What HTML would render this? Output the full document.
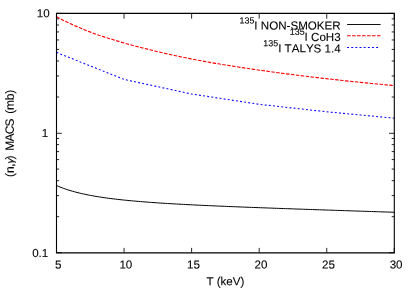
<!DOCTYPE html>
<html><head><meta charset="utf-8"><title>plot</title>
<style>
html,body{margin:0;padding:0;background:#fff;}
body{width:415px;height:290px;overflow:hidden;}
svg{display:block;will-change:transform;}
text{font-kerning:none;font-family:"Liberation Sans",sans-serif;font-size:11.6px;fill:#000;stroke:#000;stroke-width:0.1px;}
</style></head><body>
<svg width="415" height="290" viewBox="0 0 415 290">
<rect width="415" height="290" fill="#fff"/>
<path d="M56.50,252.70L61.80,252.70 M394.30,252.70L389.00,252.70 M56.50,216.68L59.10,216.68 M394.30,216.68L391.70,216.68 M56.50,195.61L59.10,195.61 M394.30,195.61L391.70,195.61 M56.50,180.66L59.10,180.66 M394.30,180.66L391.70,180.66 M56.50,169.07L59.10,169.07 M394.30,169.07L391.70,169.07 M56.50,159.59L59.10,159.59 M394.30,159.59L391.70,159.59 M56.50,151.58L59.10,151.58 M394.30,151.58L391.70,151.58 M56.50,144.65L59.10,144.65 M394.30,144.65L391.70,144.65 M56.50,138.52L59.10,138.52 M394.30,138.52L391.70,138.52 M56.50,133.30L61.80,133.30 M394.30,133.30L389.00,133.30 M56.50,97.03L59.10,97.03 M394.30,97.03L391.70,97.03 M56.50,75.96L59.10,75.96 M394.30,75.96L391.70,75.96 M56.50,61.01L59.10,61.01 M394.30,61.01L391.70,61.01 M56.50,49.42L59.10,49.42 M394.30,49.42L391.70,49.42 M56.50,39.94L59.10,39.94 M394.30,39.94L391.70,39.94 M56.50,31.93L59.10,31.93 M394.30,31.93L391.70,31.93 M56.50,25.00L59.10,25.00 M394.30,25.00L391.70,25.00 M56.50,18.87L59.10,18.87 M394.30,18.87L391.70,18.87 M56.50,13.40L61.80,13.40 M394.30,13.40L389.00,13.40 M56.50,252.70L56.50,247.90 M56.50,13.40L56.50,18.70 M124.06,252.70L124.06,247.90 M124.06,13.40L124.06,18.70 M191.62,252.70L191.62,247.90 M191.62,13.40L191.62,18.70 M259.18,252.70L259.18,247.90 M259.18,13.40L259.18,18.70 M326.74,252.70L326.74,247.90 M326.74,13.40L326.74,18.70 M394.30,252.70L394.30,247.90 M394.30,13.40L394.30,18.70" stroke="#000" stroke-width="0.85" fill="none"/>
<path d="M56.50,185.54 L58.77,186.52 L61.03,187.42 L63.30,188.28 L65.57,189.07 L67.84,189.83 L70.10,190.53 L72.37,191.20 L74.64,191.83 L76.90,192.42 L79.17,192.99 L81.44,193.52 L83.71,194.03 L85.97,194.51 L88.24,194.97 L90.51,195.40 L92.77,195.82 L95.04,196.22 L97.31,196.59 L99.58,196.96 L101.84,197.31 L104.11,197.64 L106.38,197.96 L108.64,198.26 L110.91,198.56 L113.18,198.84 L115.44,199.12 L117.71,199.38 L119.98,199.63 L122.25,199.88 L124.51,200.11 L126.78,200.34 L129.05,200.56 L131.31,200.78 L133.58,200.98 L135.85,201.19 L138.12,201.38 L140.38,201.57 L142.65,201.75 L144.92,201.93 L147.18,202.11 L149.45,202.28 L151.72,202.44 L153.99,202.60 L156.25,202.76 L158.52,202.91 L160.79,203.06 L163.05,203.21 L165.32,203.35 L167.59,203.49 L169.86,203.63 L172.12,203.76 L174.39,203.89 L176.66,204.02 L178.92,204.15 L181.19,204.27 L183.46,204.40 L185.73,204.52 L187.99,204.63 L190.26,204.75 L192.53,204.86 L194.79,204.98 L197.06,205.09 L199.33,205.20 L201.60,205.30 L203.86,205.41 L206.13,205.51 L208.40,205.62 L210.66,205.72 L212.93,205.82 L215.20,205.92 L217.47,206.02 L219.73,206.11 L222.00,206.21 L224.27,206.31 L226.53,206.40 L228.80,206.49 L231.07,206.59 L233.33,206.68 L235.60,206.77 L237.87,206.86 L240.14,206.95 L242.40,207.04 L244.67,207.13 L246.94,207.21 L249.20,207.30 L251.47,207.39 L253.74,207.47 L256.01,207.56 L258.27,207.64 L260.54,207.73 L262.81,207.81 L265.07,207.89 L267.34,207.98 L269.61,208.06 L271.88,208.14 L274.14,208.22 L276.41,208.30 L278.68,208.38 L280.94,208.46 L283.21,208.54 L285.48,208.62 L287.75,208.70 L290.01,208.78 L292.28,208.86 L294.55,208.94 L296.81,209.02 L299.08,209.10 L301.35,209.18 L303.62,209.25 L305.88,209.33 L308.15,209.41 L310.42,209.49 L312.68,209.56 L314.95,209.64 L317.22,209.72 L319.49,209.79 L321.75,209.87 L324.02,209.95 L326.29,210.02 L328.55,210.10 L330.82,210.17 L333.09,210.25 L335.36,210.33 L337.62,210.40 L339.89,210.48 L342.16,210.55 L344.42,210.63 L346.69,210.70 L348.96,210.78 L351.22,210.86 L353.49,210.93 L355.76,211.01 L358.03,211.08 L360.29,211.16 L362.56,211.23 L364.83,211.31 L367.09,211.38 L369.36,211.46 L371.63,211.53 L373.90,211.61 L376.16,211.68 L378.43,211.76 L380.70,211.83 L382.96,211.91 L385.23,211.98 L387.50,212.05 L389.77,212.13 L392.03,212.20 L394.30,212.28" stroke="#000" stroke-width="1" fill="none"/>
<path d="M56.50,16.80 L59.34,18.28 L62.18,19.72 L65.02,21.12 L67.85,22.49 L70.69,23.82 L73.53,25.12 L76.37,26.37 L79.21,27.59 L82.05,28.77 L84.89,29.92 L87.73,31.04 L90.56,32.14 L93.40,33.25 L96.24,34.32 L99.08,35.33 L101.92,36.25 L104.76,37.12 L107.60,37.97 L110.43,38.83 L113.27,39.72 L116.11,40.62 L118.95,41.51 L121.79,42.36 L124.63,43.16 L127.47,43.93 L130.31,44.70 L133.14,45.46 L135.98,46.21 L138.82,46.95 L141.66,47.68 L144.50,48.40 L147.34,49.12 L150.18,49.83 L153.01,50.52 L155.85,51.21 L158.69,51.89 L161.53,52.56 L164.37,53.21 L167.21,53.86 L170.05,54.50 L172.88,55.13 L175.72,55.75 L178.56,56.35 L181.40,56.95 L184.24,57.53 L187.08,58.11 L189.92,58.67 L192.76,59.22 L195.59,59.77 L198.43,60.30 L201.27,60.82 L204.11,61.34 L206.95,61.85 L209.79,62.35 L212.63,62.84 L215.46,63.33 L218.30,63.81 L221.14,64.28 L223.98,64.75 L226.82,65.21 L229.66,65.66 L232.50,66.11 L235.34,66.55 L238.17,66.99 L241.01,67.42 L243.85,67.85 L246.69,68.27 L249.53,68.69 L252.37,69.11 L255.21,69.52 L258.04,69.93 L260.88,70.34 L263.72,70.74 L266.56,71.14 L269.40,71.54 L272.24,71.93 L275.08,72.31 L277.92,72.69 L280.75,73.07 L283.59,73.45 L286.43,73.82 L289.27,74.18 L292.11,74.55 L294.95,74.91 L297.79,75.26 L300.62,75.62 L303.46,75.96 L306.30,76.31 L309.14,76.65 L311.98,76.99 L314.82,77.33 L317.66,77.66 L320.49,77.99 L323.33,78.32 L326.17,78.64 L329.01,78.96 L331.85,79.28 L334.69,79.60 L337.53,79.91 L340.37,80.22 L343.20,80.53 L346.04,80.84 L348.88,81.14 L351.72,81.44 L354.56,81.74 L357.40,82.03 L360.24,82.33 L363.07,82.61 L365.91,82.90 L368.75,83.19 L371.59,83.47 L374.43,83.74 L377.27,84.02 L380.11,84.29 L382.95,84.56 L385.78,84.82 L388.62,85.09 L391.46,85.34 L394.30,85.60" stroke="#f00" stroke-width="1.12" stroke-dasharray="3.5 1.45" fill="none"/>
<path d="M56.50,52.40 L124.05,79.45 L191.60,94.00 L259.20,104.30 L326.70,111.80 L394.30,118.20" stroke="#00f" stroke-width="1.05" stroke-dasharray="1.9 2.25" fill="none"/>
<path d="M56.5,252.95V13.4H394.3V252.95" fill="none" stroke="#000" stroke-width="1.1" stroke-linejoin="miter"/>
<path d="M55.95,252.95H394.85" fill="none" stroke="#000" stroke-width="1.25"/>
<text x="340.7" y="29.6" text-anchor="end" transform="rotate(0.03 340.7 29.6)"><tspan font-size="8.9" dy="-6.1">135</tspan><tspan dy="6.1">I NON-SMOKER</tspan></text><path d="M347.1,24.5H380.6" stroke="#111" stroke-width="1.0" fill="none"/>
<text x="340.7" y="40.9" text-anchor="end" transform="rotate(0.03 340.7 40.9)"><tspan font-size="8.9" dy="-6.1">135</tspan><tspan dy="6.1">I CoH3</tspan></text><path d="M347.1,35.75H380.7" stroke="#f00" stroke-width="1.2" fill="none" stroke-dasharray="3.55 1.43"/>
<text x="340.7" y="52.4" text-anchor="end" transform="rotate(0.03 340.7 52.4)"><tspan font-size="8.9" dy="-6.1">135</tspan><tspan dy="6.1">I TALYS 1.4</tspan></text><path d="M347.1,47.55H380.2" stroke="#00f" stroke-width="1.05" fill="none" stroke-dasharray="1.9 2.25"/>
<text x="58.30" y="268.60" text-anchor="middle" transform="rotate(0.03 58.30 268.60)">5</text><text x="125.86" y="268.60" text-anchor="middle" transform="rotate(0.03 125.86 268.60)">10</text><text x="193.42" y="268.60" text-anchor="middle" transform="rotate(0.03 193.42 268.60)">15</text><text x="260.98" y="268.60" text-anchor="middle" transform="rotate(0.03 260.98 268.60)">20</text><text x="328.54" y="268.60" text-anchor="middle" transform="rotate(0.03 328.54 268.60)">25</text><text x="396.10" y="268.60" text-anchor="middle" transform="rotate(0.03 396.10 268.60)">30</text>
<text x="49.60" y="17.20" text-anchor="end" transform="rotate(0.03 49.60 17.20)">10</text><text x="48.30" y="137.00" text-anchor="end" transform="rotate(0.03 48.30 137.00)">1</text><text x="48.30" y="257.10" text-anchor="end" transform="rotate(0.03 48.30 257.10)">0.1</text>
<text x="225.40" y="285.30" text-anchor="middle" transform="rotate(0.03 225.40 285.30)">T (keV)</text>
<text transform="translate(13.8,133.4) rotate(-89.97)" text-anchor="middle" style="font-size:12px;letter-spacing:-0.2px">(n,<tspan font-style="italic" font-size="10.5">γ</tspan><tspan dx="-1.0">)</tspan><tspan dx="1.75"> M</tspan><tspan dx="-0.55">A</tspan><tspan dx="-0.55">C</tspan><tspan dx="-0.6">S</tspan><tspan dx="1.7"> (mb)</tspan></text>
</svg>
</body></html>
